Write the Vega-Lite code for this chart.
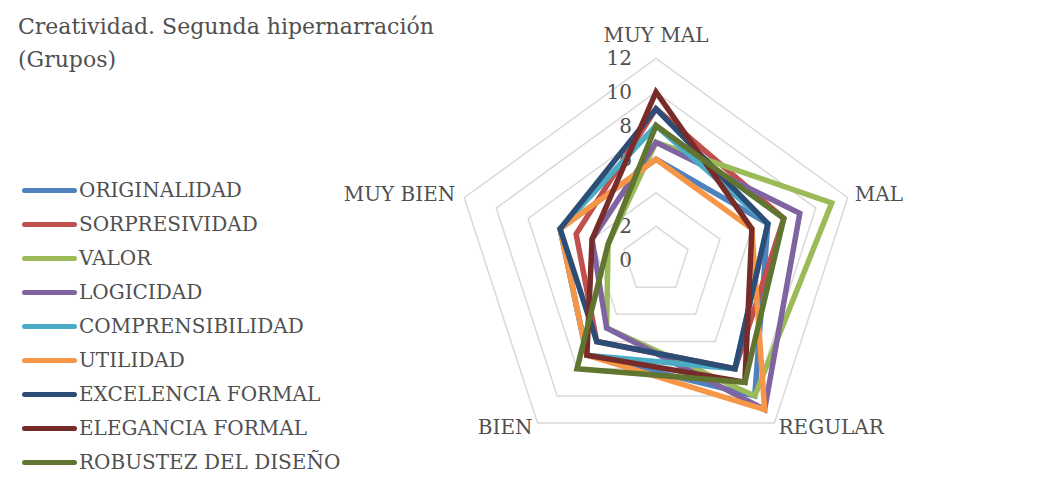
{
  "$schema": "https://vega.github.io/schema/vega-lite/v6.json",
  "width": 1062,
  "height": 485,
  "autosize": "none",
  "padding": 0,
  "background": "white",
  "config": {"view": {"stroke": null}, "font": "DejaVu Serif"},
  "title": {
    "text": ["Creatividad. Segunda hipernarración", "(Grupos)"],
    "anchor": "start",
    "frame": "group",
    "orient": "top",
    "offset": -72,
    "baseline": "top",
    "dx": 18,
    "font": "DejaVu Serif",
    "fontSize": 22,
    "fontWeight": "normal",
    "color": "#505050",
    "lineHeight": 33
  },
  "datasets": {
    "series": [
      {"series": "ORIGINALIDAD", "category": "MUY MAL", "value": 6},
      {"series": "ORIGINALIDAD", "category": "MAL", "value": 7},
      {"series": "ORIGINALIDAD", "category": "REGULAR", "value": 10},
      {"series": "ORIGINALIDAD", "category": "BIEN", "value": 7},
      {"series": "ORIGINALIDAD", "category": "MUY BIEN", "value": 6},
      {"series": "SORPRESIVIDAD", "category": "MUY MAL", "value": 9},
      {"series": "SORPRESIVIDAD", "category": "MAL", "value": 8},
      {"series": "SORPRESIVIDAD", "category": "REGULAR", "value": 8},
      {"series": "SORPRESIVIDAD", "category": "BIEN", "value": 6},
      {"series": "SORPRESIVIDAD", "category": "MUY BIEN", "value": 5},
      {"series": "VALOR", "category": "MUY MAL", "value": 7},
      {"series": "VALOR", "category": "MAL", "value": 11},
      {"series": "VALOR", "category": "REGULAR", "value": 10},
      {"series": "VALOR", "category": "BIEN", "value": 5},
      {"series": "VALOR", "category": "MUY BIEN", "value": 3},
      {"series": "LOGICIDAD", "category": "MUY MAL", "value": 7},
      {"series": "LOGICIDAD", "category": "MAL", "value": 9},
      {"series": "LOGICIDAD", "category": "REGULAR", "value": 11},
      {"series": "LOGICIDAD", "category": "BIEN", "value": 5},
      {"series": "LOGICIDAD", "category": "MUY BIEN", "value": 4},
      {"series": "COMPRENSIBILIDAD", "category": "MUY MAL", "value": 8},
      {"series": "COMPRENSIBILIDAD", "category": "MAL", "value": 7},
      {"series": "COMPRENSIBILIDAD", "category": "REGULAR", "value": 8},
      {"series": "COMPRENSIBILIDAD", "category": "BIEN", "value": 7},
      {"series": "COMPRENSIBILIDAD", "category": "MUY BIEN", "value": 6},
      {"series": "UTILIDAD", "category": "MUY MAL", "value": 6},
      {"series": "UTILIDAD", "category": "MAL", "value": 6},
      {"series": "UTILIDAD", "category": "REGULAR", "value": 11},
      {"series": "UTILIDAD", "category": "BIEN", "value": 7},
      {"series": "UTILIDAD", "category": "MUY BIEN", "value": 6},
      {"series": "EXCELENCIA FORMAL", "category": "MUY MAL", "value": 9},
      {"series": "EXCELENCIA FORMAL", "category": "MAL", "value": 7},
      {"series": "EXCELENCIA FORMAL", "category": "REGULAR", "value": 8},
      {"series": "EXCELENCIA FORMAL", "category": "BIEN", "value": 6},
      {"series": "EXCELENCIA FORMAL", "category": "MUY BIEN", "value": 6},
      {"series": "ELEGANCIA FORMAL", "category": "MUY MAL", "value": 10},
      {"series": "ELEGANCIA FORMAL", "category": "MAL", "value": 6},
      {"series": "ELEGANCIA FORMAL", "category": "REGULAR", "value": 9},
      {"series": "ELEGANCIA FORMAL", "category": "BIEN", "value": 7},
      {"series": "ELEGANCIA FORMAL", "category": "MUY BIEN", "value": 4},
      {"series": "ROBUSTEZ DEL DISEÑO", "category": "MUY MAL", "value": 8},
      {"series": "ROBUSTEZ DEL DISEÑO", "category": "MAL", "value": 8},
      {"series": "ROBUSTEZ DEL DISEÑO", "category": "REGULAR", "value": 9},
      {"series": "ROBUSTEZ DEL DISEÑO", "category": "BIEN", "value": 8},
      {"series": "ROBUSTEZ DEL DISEÑO", "category": "MUY BIEN", "value": 3}
    ],
    "grid": [
      {"ring": 2, "category": "MUY MAL"}, {"ring": 2, "category": "MAL"}, {"ring": 2, "category": "REGULAR"}, {"ring": 2, "category": "BIEN"}, {"ring": 2, "category": "MUY BIEN"},
      {"ring": 4, "category": "MUY MAL"}, {"ring": 4, "category": "MAL"}, {"ring": 4, "category": "REGULAR"}, {"ring": 4, "category": "BIEN"}, {"ring": 4, "category": "MUY BIEN"},
      {"ring": 6, "category": "MUY MAL"}, {"ring": 6, "category": "MAL"}, {"ring": 6, "category": "REGULAR"}, {"ring": 6, "category": "BIEN"}, {"ring": 6, "category": "MUY BIEN"},
      {"ring": 8, "category": "MUY MAL"}, {"ring": 8, "category": "MAL"}, {"ring": 8, "category": "REGULAR"}, {"ring": 8, "category": "BIEN"}, {"ring": 8, "category": "MUY BIEN"},
      {"ring": 10, "category": "MUY MAL"}, {"ring": 10, "category": "MAL"}, {"ring": 10, "category": "REGULAR"}, {"ring": 10, "category": "BIEN"}, {"ring": 10, "category": "MUY BIEN"},
      {"ring": 12, "category": "MUY MAL"}, {"ring": 12, "category": "MAL"}, {"ring": 12, "category": "REGULAR"}, {"ring": 12, "category": "BIEN"}, {"ring": 12, "category": "MUY BIEN"}
    ],
    "ticks": [{"v": 0}, {"v": 2}, {"v": 4}, {"v": 6}, {"v": 8}, {"v": 10}, {"v": 12}],
    "cats": [{"category": "MUY MAL", "r": 12}, {"category": "MAL", "r": 12}, {"category": "REGULAR", "r": 12}, {"category": "BIEN", "r": 12}, {"category": "MUY BIEN", "r": 12}]
  },
  "layer": [
    {
      "data": {"name": "grid"},
      "transform": [
        {"calculate": "indexof(['MUY MAL','MAL','REGULAR','BIEN','MUY BIEN'], datum.category)", "as": "i"},
        {"calculate": "PI/2 - datum.i*2*PI/5", "as": "a"},
        {"calculate": "datum.ring*cos(datum.a)", "as": "px"},
        {"calculate": "datum.ring*sin(datum.a)", "as": "py"}
      ],
      "mark": {"type": "line", "interpolate": "linear-closed", "stroke": "#D9D9D9", "strokeWidth": 1.5},
      "encoding": {
        "x": {"field": "px", "type": "quantitative", "scale": {"domain": [-39.048, 24.167], "nice": false, "zero": false}, "axis": null},
        "y": {"field": "py", "type": "quantitative", "scale": {"domain": [-13.393, 15.476], "nice": false, "zero": false}, "axis": null},
        "detail": {"field": "ring", "type": "nominal"},
        "order": {"field": "i", "type": "quantitative"}
      }
    },
    {
      "data": {"name": "ticks"},
      "mark": {"type": "text", "align": "right", "baseline": "middle", "dx": -24, "dy": 1, "fontSize": 20, "color": "#505050", "font": "DejaVu Serif"},
      "encoding": {
        "x": {"datum": 0, "type": "quantitative"},
        "y": {"field": "v", "type": "quantitative"},
        "text": {"field": "v", "type": "quantitative"}
      }
    },
    {
      "data": {"name": "series"},
      "transform": [
        {"calculate": "indexof(['MUY MAL','MAL','REGULAR','BIEN','MUY BIEN'], datum.category)", "as": "i"},
        {"calculate": "PI/2 - datum.i*2*PI/5", "as": "a"},
        {"calculate": "datum.value*cos(datum.a)", "as": "px"},
        {"calculate": "datum.value*sin(datum.a)", "as": "py"}
      ],
      "mark": {"type": "line", "interpolate": "linear-closed", "strokeWidth": 5.5, "strokeJoin": "miter"},
      "encoding": {
        "x": {"field": "px", "type": "quantitative"},
        "y": {"field": "py", "type": "quantitative"},
        "order": {"field": "i", "type": "quantitative"},
        "color": {
          "field": "series",
          "type": "nominal",
          "sort": null,
          "scale": {
            "domain": ["ORIGINALIDAD", "SORPRESIVIDAD", "VALOR", "LOGICIDAD", "COMPRENSIBILIDAD", "UTILIDAD", "EXCELENCIA FORMAL", "ELEGANCIA FORMAL", "ROBUSTEZ DEL DISEÑO"],
            "range": ["#4F81BD", "#C0504D", "#9BBB59", "#8064A2", "#4BACC6", "#F79646", "#2C4D75", "#772C2A", "#5F7530"]
          },
          "legend": {
            "orient": "none",
            "legendX": 37,
            "legendY": 178,
            "title": null,
            "symbolType": "M-2.5,0H2.5",
            "symbolSize": 400,
            "symbolStrokeWidth": 5,
            "labelFont": "DejaVu Serif",
            "labelFontSize": 20,
            "labelColor": "#505050",
            "labelOffset": 17,
            "labelLimit": 400,
            "rowPadding": 11,
            "encode": {"symbols": {"update": {"strokeCap": {"value": "round"}}}}
          }
        }
      }
    },
    {
      "data": {"name": "cats"},
      "transform": [
        {"calculate": "indexof(['MUY MAL','MAL','REGULAR','BIEN','MUY BIEN'], datum.category)", "as": "i"},
        {"calculate": "PI/2 - datum.i*2*PI/5", "as": "a"},
        {"calculate": "datum.r*cos(datum.a)", "as": "px"},
        {"calculate": "datum.r*sin(datum.a)", "as": "py"}
      ],
      "encoding": {
        "x": {"field": "px", "type": "quantitative"},
        "y": {"field": "py", "type": "quantitative"},
        "text": {"field": "category", "type": "nominal"}
      },
      "layer": [
        {"transform": [{"filter": "datum.category == 'MUY MAL'"}], "mark": {"type": "text", "align": "center", "baseline": "middle", "dy": -22, "fontSize": 20, "color": "#505050", "font": "DejaVu Serif"}},
        {"transform": [{"filter": "datum.category == 'MAL'"}], "mark": {"type": "text", "align": "left", "baseline": "middle", "dx": 7, "dy": -3, "fontSize": 20, "color": "#505050", "font": "DejaVu Serif"}},
        {"transform": [{"filter": "datum.category == 'REGULAR'"}], "mark": {"type": "text", "align": "left", "baseline": "middle", "dx": 4, "dy": 5, "fontSize": 20, "color": "#505050", "font": "DejaVu Serif"}},
        {"transform": [{"filter": "datum.category == 'BIEN'"}], "mark": {"type": "text", "align": "right", "baseline": "middle", "dx": -5, "dy": 5, "fontSize": 20, "color": "#505050", "font": "DejaVu Serif"}},
        {"transform": [{"filter": "datum.category == 'MUY BIEN'"}], "mark": {"type": "text", "align": "right", "baseline": "middle", "dx": -9, "dy": -3, "fontSize": 20, "color": "#505050", "font": "DejaVu Serif"}}
      ]
    }
  ]
}
